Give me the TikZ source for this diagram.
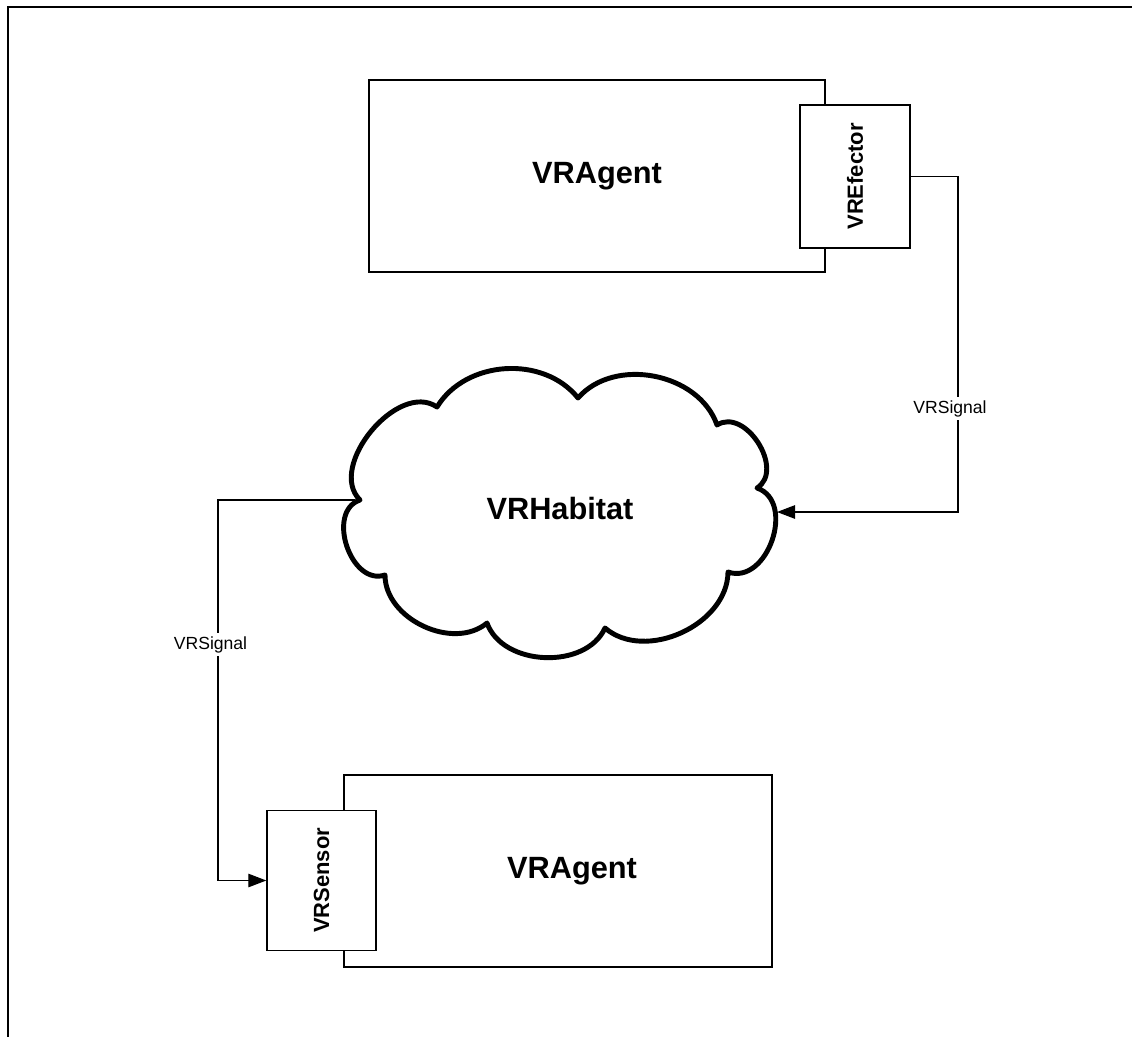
\documentclass[tikz,border=0pt]{standalone}
\usepackage{fontspec}
\setmainfont{Liberation Sans}
\usetikzlibrary{arrows.meta,positioning}

\tikzset{
  box/.style={draw, fill=white, line width=0.8pt, inner sep=0pt},
  agent/.style={box, minimum width=#1, minimum height=3.84cm, font=\bfseries\fontsize{17.5}{20}\selectfont},
  part/.style={box, font=\bfseries\fontsize{12.5}{14}\selectfont},
  signal/.style={line width=0.6pt, -{Triangle[length=0.36cm,width=0.27cm]}},
  siglabel/.style={fill=white, inner sep=2pt, font=\fontsize{10}{12}\selectfont},
  cloudline/.style={line width=2.8pt, line join=round}
}

\begin{document}
\begin{tikzpicture}[x=0.02cm, y=0.02cm]
    \useasboundingbox (0,0) rectangle (1132,-1037);
    % frame
    \draw[line width=1.3pt] (1132,-7) -- (8,-7) -- (8,-1037);

    % upper agent with its effector
    \node[agent=9.12cm] (agentTop) at (597,-176) {VRAgent};
    \node[part, minimum width=2.2cm, minimum height=2.86cm] (effector) at (855,-176.5) {\rotatebox{90}{VREfector}};

    % habitat
    \draw[cloudline] (437,-407) to[bend left=55] (578,-398)
        to[bend left=60] (717,-425)
        to[bend left=90, looseness=1.15] (757,-488)
        to[bend left=90, looseness=1.2] (728,-572)
        to[bend left=65] (605,-628)
        to[bend left=68] (487,-623)
        to[bend left=65] (385,-575)
        to[bend left=90, looseness=1.17] (360,-500)
        to[bend left=85] (437,-407) -- cycle;
    \node[font=\bfseries\fontsize{17.5}{20}\selectfont] (habitat) at (560,-509) {VRHabitat};
    \coordinate (habW) at (355,-500);
    \coordinate (habE) at (777,-512);

    % lower agent with its sensor
    \node[agent=8.56cm, label={[xshift=0.28cm, font=\bfseries\fontsize{17.5}{20}\selectfont]center:VRAgent}] (agentBot) at (558,-871) {};
    \node[part, minimum width=2.18cm, minimum height=2.8cm] (sensor) at (321.5,-880.5) {\rotatebox{90}{VRSensor}};

    % signals
    \coordinate (bendR) at (958,-512);
    \coordinate (bendL) at (218,-500);
    \draw[signal] (effector.east) -| (bendR) node[siglabel, pos=0.846, xshift=-0.16cm] (sigOut) {VRSignal} -- (habE);
    \draw[signal] (habW) -- (bendL) |- (sensor.west) node[siglabel, pos=0.19, xshift=-0.15cm] (sigIn) {VRSignal};
\end{tikzpicture}
\end{document}
